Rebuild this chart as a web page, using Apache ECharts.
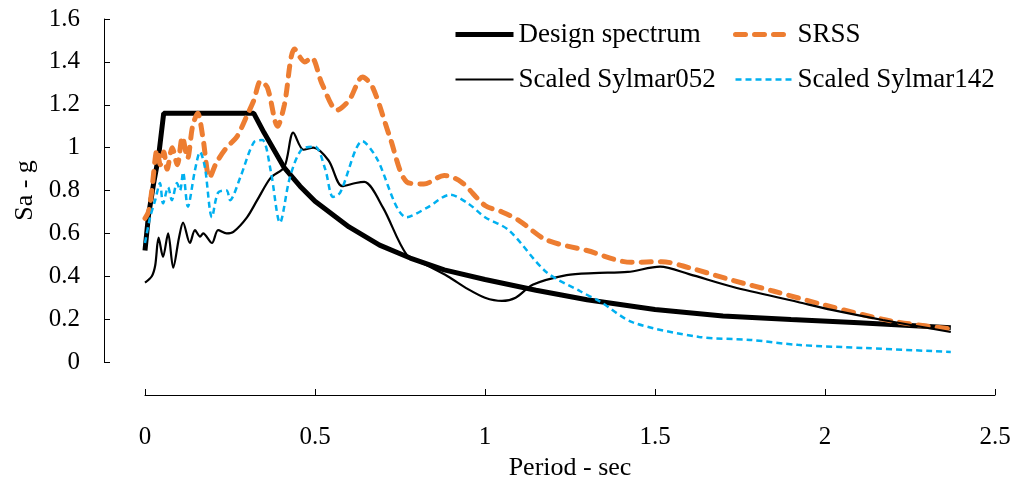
<!DOCTYPE html>
<html>
<head>
<meta charset="utf-8">
<script src="https://cdn.jsdelivr.net/npm/echarts@6/dist/echarts.min.js"></script>
<style>html,body{margin:0;padding:0;background:#fff}#c{width:1024px;height:484px}</style>
</head>
<body>
<div id="c"></div>
<script>
const seriesNames = ['Design spectrum', 'SRSS', 'Scaled Sylmar052', 'Scaled Sylmar142'];
const xTicks = [0, 0.5, 1, 1.5, 2, 2.5];
const yTicks = [0, 0.2, 0.4, 0.6, 0.8, 1, 1.2, 1.4, 1.6];

const designSpectrum = [[0,0.52],[0.01,0.68],[0.025,0.83],[0.04,0.96],[0.055,1.16],[0.32,1.16],[0.35,1.07],[0.41,0.905],[0.456,0.82],[0.5,0.75],[0.6,0.63],[0.69,0.545],[0.78,0.485],[0.88,0.43],[1.0,0.385],[1.15,0.335],[1.3,0.29],[1.5,0.245],[1.7,0.215],[1.9,0.198],[2.1,0.183],[2.37,0.16]];

const srss = [[0,0.67],[0.01,0.7],[0.02,0.8],[0.03,0.95],[0.035,0.99],[0.045,0.92],[0.055,0.98],[0.065,0.9],[0.08,1.0],[0.095,0.92],[0.11,1.05],[0.125,0.95],[0.14,1.1],[0.155,1.16],[0.17,1.05],[0.19,0.86],[0.21,0.93],[0.24,1.0],[0.27,1.05],[0.3,1.15],[0.32,1.22],[0.34,1.31],[0.36,1.28],[0.39,1.1],[0.41,1.2],[0.44,1.46],[0.47,1.4],[0.49,1.42],[0.52,1.3],[0.565,1.175],[0.6,1.22],[0.64,1.33],[0.67,1.28],[0.72,1.05],[0.77,0.84],[0.82,0.83],[0.88,0.87],[0.93,0.84],[1.0,0.73],[1.05,0.7],[1.1,0.66],[1.18,0.57],[1.3,0.52],[1.43,0.465],[1.52,0.468],[1.6,0.44],[1.73,0.38],[1.85,0.33],[2.0,0.265],[2.2,0.19],[2.37,0.155]];

const sylmar052 = [[0,0.37],[0.02,0.40],[0.03,0.45],[0.04,0.58],[0.053,0.49],[0.068,0.6],[0.083,0.44],[0.1,0.58],[0.112,0.65],[0.132,0.555],[0.147,0.615],[0.162,0.585],[0.171,0.6],[0.197,0.555],[0.215,0.615],[0.24,0.6],[0.26,0.607],[0.3,0.675],[0.33,0.755],[0.37,0.86],[0.41,0.91],[0.436,1.07],[0.466,0.99],[0.495,1.0],[0.54,0.94],[0.58,0.82],[0.62,0.835],[0.645,0.84],[0.7,0.72],[0.77,0.5],[0.83,0.45],[0.89,0.40],[0.95,0.34],[1.0,0.3],[1.05,0.285],[1.09,0.30],[1.14,0.36],[1.24,0.405],[1.32,0.415],[1.42,0.42],[1.515,0.445],[1.6,0.41],[1.73,0.35],[1.92,0.28],[2.02,0.243],[2.17,0.196],[2.37,0.14]];

const sylmar142 = [[0,0.555],[0.015,0.675],[0.03,0.755],[0.044,0.835],[0.053,0.74],[0.068,0.815],[0.079,0.755],[0.094,0.835],[0.103,0.80],[0.112,0.885],[0.126,0.725],[0.147,0.895],[0.162,0.98],[0.176,0.91],[0.197,0.675],[0.215,0.79],[0.24,0.80],[0.25,0.755],[0.28,0.86],[0.32,1.025],[0.345,1.035],[0.37,0.89],[0.397,0.65],[0.426,0.86],[0.46,0.99],[0.5,1.005],[0.53,0.9],[0.553,0.77],[0.574,0.79],[0.64,1.03],[0.68,0.955],[0.77,0.675],[0.83,0.72],[0.897,0.78],[0.95,0.74],[1.0,0.675],[1.07,0.615],[1.18,0.42],[1.28,0.33],[1.34,0.28],[1.435,0.185],[1.63,0.117],[1.78,0.103],[1.92,0.08],[2.12,0.065],[2.37,0.047]];

const FONT = 'Liberation Serif';
const legendText = {fontFamily: FONT, fontSize: 27, color: '#000'};
const chart = echarts.init(document.getElementById('c'), null, {renderer: 'canvas'});
chart.setOption({
  animation: false,
  backgroundColor: '#fff',
  grid: {left: 145, right: 29, top: 19, bottom: 122, containLabel: false, outerBoundsMode: 'none'},
  legend: [
    {orient: 'vertical', left: 448, top: 16, itemWidth: 58, itemHeight: 14, itemGap: 18,
     itemStyle: {opacity: 0}, lineStyle: {width: 'inherit'},
     data: [seriesNames[0], seriesNames[2]], textStyle: legendText},
    {orient: 'vertical', left: 728, top: 16, itemWidth: 57, itemHeight: 14, itemGap: 18,
     itemStyle: {opacity: 0}, lineStyle: {width: 'inherit'},
     data: [seriesNames[1], seriesNames[3]], textStyle: legendText}
  ],
  xAxis: {
    type: 'value', min: 0, max: 2.5, interval: 0.5, offset: 33,
    name: 'Period - sec', nameLocation: 'middle', nameGap: 60,
    nameTextStyle: {fontFamily: FONT, fontSize: 26, color: '#000'},
    axisLine: {show: true, onZero: false, lineStyle: {color: '#000', width: 1}},
    axisTick: {show: true, inside: true, length: 6, lineStyle: {color: '#000'}},
    axisLabel: {margin: 30, fontFamily: FONT, fontSize: 25, color: '#000',
      formatter: v => xTicks.includes(v) ? String(v) : ''},
    splitLine: {show: false}
  },
  yAxis: {
    type: 'value', min: 0, max: 1.6, interval: 0.2, offset: 41,
    name: 'Sa - g', nameLocation: 'middle', nameGap: 66, nameRotate: 90,
    nameTextStyle: {fontFamily: FONT, fontSize: 26, color: '#000'},
    axisLine: {show: true, onZero: false, lineStyle: {color: '#000', width: 1}},
    axisTick: {show: true, inside: true, length: 6, lineStyle: {color: '#000'}},
    axisLabel: {margin: 24, fontFamily: FONT, fontSize: 25, color: '#000',
      formatter: v => { const t = yTicks.find(k => Math.abs(k - v) < 1e-9); return t === undefined ? '' : String(t); }},
    splitLine: {show: false}
  },
  series: [
    {name: seriesNames[0], type: 'line', data: designSpectrum, symbol: 'none', smooth: false,
     lineStyle: {color: '#000', width: 5}, itemStyle: {color: '#000'}, z: 2},
    {name: seriesNames[1], type: 'line', data: srss, symbol: 'none', smooth: 0.3,
     lineStyle: {color: '#ED7D31', width: 5, type: [10, 9], cap: 'round'}, itemStyle: {color: '#ED7D31'}, z: 3},
    {name: seriesNames[2], type: 'line', data: sylmar052, symbol: 'none', smooth: 0.3,
     lineStyle: {color: '#000', width: 2.2}, itemStyle: {color: '#000'}, z: 4},
    {name: seriesNames[3], type: 'line', data: sylmar142, symbol: 'none', smooth: 0.3,
     lineStyle: {color: '#00B0F0', width: 2.5, type: [6, 4]}, itemStyle: {color: '#00B0F0'}, z: 5}
  ]
});
</script>
</body>
</html>
